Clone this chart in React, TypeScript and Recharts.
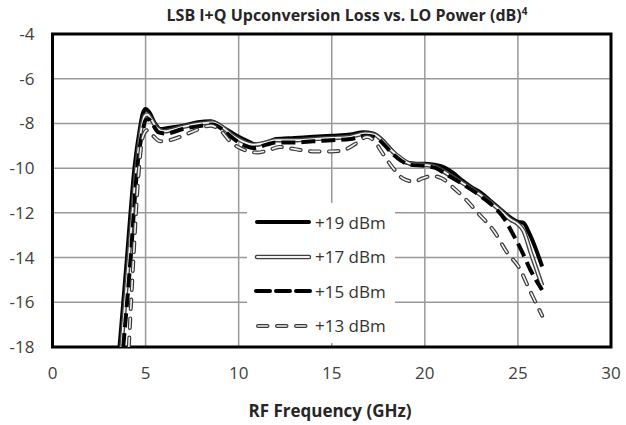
import React from 'react';
import { LineChart, Line, XAxis, YAxis, CartesianGrid, Legend, ReferenceArea } from 'recharts';

// RF frequency (GHz) / loss (dB), one pair per LO drive level
const freq19 = [3.6, 4.0, 4.4, 4.7, 4.85, 5.0, 5.2, 5.5, 5.8, 6.2, 7.0, 7.8, 8.5, 9.0, 9.5, 10.0, 10.5, 11.0, 11.5, 12.0, 13.0, 14.0, 15.0, 16.0, 16.7, 17.2, 17.6, 18.0, 18.5, 19.0, 19.5, 20.0, 20.5, 21.0, 21.5, 22.0, 22.5, 23.0, 23.5, 24.0, 24.5, 25.0, 25.3, 25.6, 26.0, 26.3];
const loss19 = [-18, -14, -10, -8.2, -7.55, -7.35, -7.5, -8.0, -8.25, -8.2, -8.1, -7.95, -7.9, -8.1, -8.35, -8.6, -8.8, -8.95, -8.85, -8.7, -8.65, -8.6, -8.55, -8.5, -8.4, -8.45, -8.65, -9.0, -9.45, -9.75, -9.8, -9.8, -9.85, -9.95, -10.2, -10.55, -10.85, -11.1, -11.45, -11.8, -12.15, -12.4, -12.45, -12.9, -13.7, -14.4];

const freq17 = [3.7, 4.1, 4.5, 4.8, 4.95, 5.1, 5.3, 5.6, 6.0, 7.0, 8.0, 8.6, 9.1, 9.6, 10.2, 10.8, 11.5, 12.0, 13.0, 14.0, 15.0, 16.0, 16.8, 17.3, 17.7, 18.2, 18.7, 19.2, 20.0, 20.6, 21.2, 22.0, 23.0, 24.0, 24.6, 25.0, 25.3, 25.7, 26.3];
const loss17 = [-18, -14, -10, -8.1, -7.65, -7.6, -7.8, -8.2, -8.35, -8.15, -8.0, -7.95, -8.15, -8.5, -8.8, -8.95, -8.85, -8.75, -8.75, -8.7, -8.65, -8.6, -8.45, -8.5, -8.75, -9.2, -9.55, -9.8, -9.85, -9.95, -10.25, -10.65, -11.2, -11.85, -12.3, -12.5, -12.8, -13.8, -15.25];

const freq15 = [3.8, 4.2, 4.55, 4.85, 5.0, 5.15, 5.35, 5.7, 6.1, 7.0, 8.0, 8.6, 9.1, 9.6, 10.2, 10.8, 11.5, 12.0, 13.0, 14.0, 15.0, 16.0, 16.8, 17.3, 17.7, 18.2, 18.7, 19.2, 20.0, 20.6, 21.2, 22.0, 23.0, 23.8, 24.3, 24.7, 25.2, 25.7, 26.3];
const loss15 = [-18, -14, -10, -8.3, -7.85, -7.8, -8.0, -8.4, -8.45, -8.25, -8.1, -8.05, -8.25, -8.6, -8.95, -9.1, -8.95, -8.85, -8.85, -8.8, -8.75, -8.7, -8.55, -8.6, -8.85, -9.3, -9.65, -9.85, -9.9, -10.0, -10.3, -10.7, -11.25, -11.8, -12.3, -12.9, -13.7, -14.6, -15.45];

const freq13 = [4.1, 4.35, 4.6, 4.8, 4.95, 5.1, 5.4, 5.8, 6.3, 7.0, 7.7, 8.5, 9.0, 9.6, 10.2, 11.0, 11.6, 12.2, 13.0, 14.0, 15.0, 15.6, 16.3, 16.9, 17.3, 17.7, 18.3, 18.8, 19.4, 19.9, 20.4, 20.9, 21.5, 22.2, 22.9, 23.7, 24.4, 25.1, 25.6, 26.3];
const loss13 = [-18, -14, -10.5, -8.8, -8.4, -8.3, -8.55, -8.8, -8.75, -8.55, -8.3, -8.1, -8.3, -8.85, -9.15, -9.3, -9.2, -9.05, -9.15, -9.25, -9.25, -9.2, -8.9, -8.6, -8.8, -9.3, -10.0, -10.45, -10.6, -10.45, -10.35, -10.45, -10.85, -11.4, -12.05, -12.8, -13.75, -14.5, -15.4, -16.6];

const xTicks = [0, 5, 10, 15, 20, 25, 30];
const yTicks = [-18, -16, -14, -12, -10, -8, -6, -4];
const legendLabels = ['+19 dBm', '+17 dBm', '+15 dBm', '+13 dBm'];

const toPoints = (f: number[], l: number[]) => f.map((x, i) => ({ freq: x, loss: l[i] }));

const FONT = '"Open Sans", sans-serif';

const LegendSample = ({ idx }: { idx: number }) => (
  <svg width={58} height={12} style={{ display: 'block' }}>
    {idx === 0 && <line x1={3} y1={6} x2={55} y2={6} stroke="#000" strokeWidth={4} strokeLinecap="round" />}
    {idx === 1 && (
      <>
        <line x1={3} y1={6} x2={55} y2={6} stroke="#404040" strokeWidth={4.5} strokeLinecap="round" />
        <line x1={3} y1={6} x2={55} y2={6} stroke="#f4f4f4" strokeWidth={1.8} strokeLinecap="round" />
      </>
    )}
    {idx === 2 && <line x1={2} y1={6} x2={56} y2={6} stroke="#000" strokeWidth={4} strokeDasharray="14 6" strokeLinecap="round" />}
    {idx === 3 && (
      <>
        <line x1={4} y1={6} x2={56} y2={6} stroke="#3a3a3a" strokeWidth={4} strokeDasharray="9.5 9.5" strokeLinecap="round" />
        <line x1={4} y1={6} x2={56} y2={6} stroke="#f2f2f2" strokeWidth={1.6} strokeDasharray="9.5 9.5" strokeLinecap="round" />
      </>
    )}
  </svg>
);

const renderLegend = () => (
  <div style={{ paddingTop: 2 }}>
    {legendLabels.map((label, i) => (
      <div key={label} style={{ display: 'flex', alignItems: 'center', height: 34.5, paddingLeft: 7 }}>
        <LegendSample idx={i} />
        <span style={{ fontFamily: FONT, fontSize: 17, color: '#333', marginLeft: 3 }}>{label}</span>
      </div>
    ))}
  </div>
);

export default function App() {
  return (
    <div style={{ position: 'absolute', left: 0, top: 0, width: 626, height: 425, background: '#fff' }}>
      <LineChart width={626} height={425} margin={{ top: 34, right: 15, bottom: 48, left: 12.5 }}>
        <CartesianGrid stroke="#999" strokeWidth={1.5} />
        <XAxis
          dataKey="freq"
          type="number"
          domain={[0, 30]}
          ticks={xTicks}
          allowDataOverflow
          height={30}
          axisLine={false}
          tickLine={false}
          tickSize={6}
          tickMargin={14}
          tick={{ fill: '#404040', fontSize: 17, fontFamily: FONT }}
        />
        <YAxis
          type="number"
          domain={[-18, -4]}
          ticks={yTicks}
          allowDataOverflow
          width={40}
          axisLine={false}
          tickLine={false}
          tickSize={6}
          tickMargin={12}
          tick={{ fill: '#404040', fontSize: 17, fontFamily: FONT }}
        />
        <ReferenceArea x1={0} x2={30} y1={-18} y2={-4} fill="none" stroke="#000" strokeWidth={3} ifOverflow="visible" />
        <Line data={toPoints(freq19, loss19)} dataKey="loss" type="monotone" stroke="#000" strokeWidth={4} dot={false} isAnimationActive={false} />
        <Line data={toPoints(freq17, loss17)} dataKey="loss" type="monotone" stroke="#404040" strokeWidth={4.5} dot={false} isAnimationActive={false} />
        <Line data={toPoints(freq17, loss17)} dataKey="loss" type="monotone" stroke="#f4f4f4" strokeWidth={1.8} dot={false} isAnimationActive={false} />
        <Line data={toPoints(freq15, loss15)} dataKey="loss" type="monotone" stroke="#000" strokeWidth={4} strokeDasharray="14 6" dot={false} isAnimationActive={false} />
        <Line data={toPoints(freq13, loss13)} dataKey="loss" type="monotone" stroke="#3a3a3a" strokeWidth={4} strokeDasharray="9.5 9.5" strokeLinecap="round" dot={false} isAnimationActive={false} />
        <Line data={toPoints(freq13, loss13)} dataKey="loss" type="monotone" stroke="#f2f2f2" strokeWidth={1.6} strokeDasharray="9.5 9.5" strokeLinecap="round" dot={false} isAnimationActive={false} />
        <Legend
          layout="vertical"
          align="center"
          verticalAlign="middle"
          content={renderLegend}
          wrapperStyle={{ left: 247, top: 203, width: 148, height: 140, background: '#fff' }}
        />
      </LineChart>
      <div style={{ position: 'absolute', left: 147, top: 4, width: 400, textAlign: 'center', fontFamily: FONT, fontWeight: 700, fontSize: 16, lineHeight: '22px', color: '#262626', whiteSpace: 'nowrap' }}>
        LSB I+Q Upconversion Loss vs. LO Power (dB)<sup style={{ fontSize: 10, verticalAlign: 'top', lineHeight: '14px' }}>4</sup>
      </div>
      <div style={{ position: 'absolute', left: 230, top: 400, width: 200, textAlign: 'center', fontFamily: FONT, fontWeight: 700, fontSize: 17, lineHeight: '22px', color: '#262626' }}>
        RF Frequency (GHz)
      </div>
    </div>
  );
}
